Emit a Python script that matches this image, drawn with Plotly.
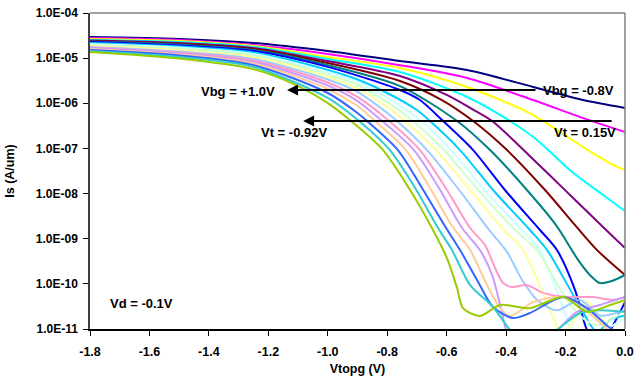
import plotly.graph_objects as go

# ---- data (Vtopg in V, Is in A/um) ----
vbg_values = ["-0.8", "-0.7", "-0.6", "-0.5", "-0.4", "-0.3", "-0.2", "-0.1", "0.0",
              "0.1", "0.2", "0.3", "0.4", "0.5", "0.6", "0.7", "0.8", "0.9", "1.0"]

vtg_n08 = [-1.8, -1.5, -1.25, -1.0, -0.757, -0.531, -0.309, -0.141, 0.0]
is_n08 = [2.94e-5, 2.65e-5, 2.17e-5, 1.44e-5, 8.6e-6, 5.46e-6, 2.30e-6, 1.18e-6, 7.9e-7]

vtg_n07 = [-1.8, -1.5, -1.25, -1.0, -0.757, -0.531, -0.309, -0.141, 0.0]
is_n07 = [2.79e-5, 2.52e-5, 1.95e-5, 1.24e-5, 7.0e-6, 3.63e-6, 1.18e-6, 4.7e-7, 2.31e-7]

vtg_n06 = [-1.8, -1.5, -1.25, -1.0, -0.757, -0.531, -0.309, -0.141, -0.040, 0.0]
is_n06 = [2.65e-5, 2.40e-5, 1.86e-5, 1.06e-5, 6.05e-6, 2.30e-6, 5.5e-7, 1.07e-7, 4.3e-8, 3.3e-8]

vtg_n05 = [-1.8, -1.5, -1.25, -1.0, -0.757, -0.531, -0.387, -0.296, -0.185, -0.074, 0.0]
is_n05 = [2.52e-5, 2.28e-5, 1.77e-5, 9.6e-6, 4.93e-6, 1.38e-6, 4.05e-7, 1.54e-7, 3.3e-8, 9.3e-9, 4.1e-9]

vtg_n04 = [-1.8, -1.5, -1.25, -1.0, -0.757, -0.6, -0.521, -0.447, -0.296, -0.185, -0.074, 0.0]
is_n04 = [2.46e-5, 2.17e-5, 1.68e-5, 8.6e-6, 4.02e-6, 1.53e-6, 7.9e-7, 4.05e-7, 4.75e-8, 9.3e-9, 1.82e-9, 6.2e-10]

vtg_n03 = [-1.8, -1.5, -1.25, -1.0, -0.757, -0.616, -0.511, -0.397, -0.269, -0.168, -0.094, 0.0]
is_n03 = [2.40e-5, 2.06e-5, 1.59e-5, 7.8e-6, 3.12e-6, 1.18e-6, 4.05e-7, 9.2e-8, 1.2e-8, 2.0e-9, 5.6e-10, 1.57e-10]

vtg_n02 = [-1.8, -1.5, -1.25, -1.0, -0.757, -0.565, -0.454, -0.330, -0.232, -0.158, -0.118, -0.084, -0.044, 0.0]
is_n02 = [2.34e-5, 2.01e-5, 1.51e-5, 7.0e-6, 2.41e-6, 4.05e-7, 9.2e-8, 1.2e-8, 2.0e-9, 3.4e-10, 1.57e-10, 1.04e-10, 1.16e-10, 1.57e-10]

vtg_n01 = [-1.8, -1.5, -1.25, -1.0, -0.757, -0.690, -0.612, -0.511, -0.404, -0.286, -0.229, -0.168, -0.128, -0.094, -0.050, 0.0]
is_n01 = [2.28e-5, 1.91e-5, 1.44e-5, 6.4e-6, 1.97e-6, 1.18e-6, 4.05e-7, 9.2e-8, 1.2e-8, 1.56e-9, 5.6e-10, 7.3e-11, 9.5e-12, 4.4e-12, 9.5e-12, 3.95e-11]

vtg_p00 = [-1.8, -1.5, -1.25, -1.0, -0.9, -0.8, -0.7, -0.656, -0.555, -0.444, -0.320, -0.262, -0.151, -0.094, -0.050, 0.0]
is_p00 = [2.17e-5, 1.81e-5, 1.33e-5, 5.46e-6, 3.36e-6, 1.69e-6, 7.1e-7, 4.05e-7, 9.2e-8, 1.2e-8, 1.56e-9, 5.6e-10, 3.07e-11, 8.6e-12, 1.58e-11, 2.0e-11]

vtg_p01 = [-1.8, -1.5, -1.25, -1.0, -0.9, -0.8, -0.686, -0.585, -0.474, -0.346, -0.286, -0.185, -0.158, -0.067, 0.0]
is_p01 = [2.06e-5, 1.72e-5, 1.24e-5, 4.93e-6, 2.96e-6, 1.34e-6, 4.05e-7, 9.2e-8, 1.2e-8, 1.56e-9, 5.6e-10, 1.1e-11, 4.4e-12, 9.5e-12, 1.75e-11]

vtg_p02 = [-1.8, -1.5, -1.25, -1.0, -0.9, -0.8, -0.713, -0.609, -0.494, -0.370, -0.296, -0.195, -0.134, -0.084, 0.0]
is_p02 = [1.95e-5, 1.64e-5, 1.15e-5, 4.34e-6, 2.54e-6, 1.07e-6, 4.05e-7, 9.2e-8, 1.2e-8, 1.56e-9, 5.6e-10, 4.4e-11, 1.58e-11, 1.22e-11, 2.6e-11]

vtg_p03 = [-1.8, -1.5, -1.25, -1.0, -0.9, -0.8, -0.740, -0.636, -0.521, -0.407, -0.343, -0.242, -0.212, -0.168, -0.128, -0.084, -0.040, 0.0]
is_p03 = [1.86e-5, 1.51e-5, 1.06e-5, 3.82e-6, 2.13e-6, 8.3e-7, 4.05e-7, 9.2e-8, 1.2e-8, 1.56e-9, 5.6e-10, 1.84e-11, 7.4e-12, 1.75e-11, 3.95e-11, 1.84e-11, 8.1e-12, 4.4e-12]

vtg_p04 = [-1.8, -1.5, -1.25, -1.0, -0.9, -0.8, -0.767, -0.666, -0.558, -0.457, -0.397, -0.346, -0.296, -0.229, -0.151, -0.084, 0.0]
is_p04 = [1.77e-5, 1.40e-5, 9.6e-6, 3.36e-6, 1.78e-6, 6.1e-7, 4.05e-7, 9.2e-8, 1.2e-8, 1.56e-9, 5.1e-10, 1.22e-10, 4.4e-11, 2.6e-11, 4.4e-11, 2.0e-11, 2.6e-11]

vtg_p05 = [-1.8, -1.5, -1.25, -1.0, -0.9, -0.794, -0.690, -0.599, -0.521, -0.471, -0.437, -0.410, -0.380, -0.330, -0.276, -0.195, -0.108, -0.040, 0.0]
is_p05 = [1.72e-5, 1.33e-5, 8.9e-6, 2.89e-6, 1.38e-6, 4.05e-7, 9.2e-8, 1.2e-8, 1.73e-9, 7.2e-10, 2.24e-10, 1.04e-10, 8.5e-11, 9.4e-11, 6.3e-11, 5.1e-11, 5.1e-11, 4.4e-11, 5.1e-11]

vtg_p06 = [-1.8, -1.5, -1.25, -1.0, -0.9, -0.817, -0.710, -0.622, -0.548, -0.488, -0.447, -0.420, -0.400, -0.380, -0.286, -0.161, -0.084, 0.0]
is_p06 = [1.68e-5, 1.27e-5, 8.2e-6, 2.48e-6, 1.12e-6, 4.05e-7, 9.2e-8, 1.2e-8, 1.73e-9, 5.6e-10, 1.57e-10, 3.4e-11, 9.5e-12, 4.4e-12, 4.4e-12, 2.4e-11, 3.4e-11, 5.1e-11]

vtg_p07 = [-1.8, -1.5, -1.25, -1.0, -0.9, -0.841, -0.737, -0.656, -0.582, -0.521, -0.464, -0.420, -0.387, -0.309, -0.219, -0.151, -0.101, -0.044, 0.0]
is_p07 = [1.59e-5, 1.20e-5, 7.6e-6, 2.07e-6, 8.7e-7, 4.05e-7, 9.2e-8, 1.33e-8, 1.91e-9, 5.6e-10, 9.4e-11, 2.9e-11, 1.94e-11, 3.95e-11, 5.1e-11, 3.4e-11, 1.75e-11, 8.1e-12, 5.7e-12]

vtg_p08 = [-1.8, -1.5, -1.25, -1.0, -0.9, -0.868, -0.764, -0.683, -0.606, -0.555, -0.494, -0.444, -0.377, -0.320, -0.208, -0.128, -0.050, 0.0]
is_p08 = [1.51e-5, 1.15e-5, 7.0e-6, 1.69e-6, 6.1e-7, 4.05e-7, 9.2e-8, 1.33e-8, 1.91e-9, 5.6e-10, 1.10e-10, 3.07e-11, 1.75e-11, 2.26e-11, 5.1e-11, 2.9e-11, 1.05e-11, 7.0e-12]

vtg_p09 = [-1.8, -1.5, -1.25, -1.0, -0.895, -0.791, -0.706, -0.629, -0.582, -0.521, -0.444, -0.387, -0.353, -0.242, -0.151, -0.084, 0.0]
is_p09 = [1.44e-5, 1.06e-5, 6.4e-6, 1.31e-6, 4.05e-7, 9.2e-8, 1.33e-8, 1.73e-9, 5.6e-10, 9.4e-11, 3.07e-11, 9.5e-12, 5.7e-12, 8.6e-12, 2.26e-11, 2.6e-11, 2.4e-11]

vtg_p10 = [-1.8, -1.5, -1.25, -1.1, -1.0, -0.922, -0.814, -0.723, -0.646, -0.599, -0.565, -0.545, -0.488, -0.420, -0.320, -0.208, -0.128, -0.050, 0.0]
is_p10 = [1.37e-5, 9.8e-6, 5.7e-6, 2.41e-6, 1.01e-6, 4.05e-7, 9.2e-8, 1.2e-8, 1.56e-9, 3.7e-10, 8.1e-11, 2.9e-11, 1.94e-11, 3.4e-11, 2.9e-11, 5.1e-11, 2.4e-11, 3.4e-11, 4.4e-11]

x_ticks = [-1.8, -1.6, -1.4, -1.2, -1.0, -0.8, -0.6, -0.4, -0.2, 0.0]
x_tick_text = ["-1.8", "-1.6", "-1.4", "-1.2", "-1.0", "-0.8", "-0.6", "-0.4", "-0.2", "0.0"]
y_ticks = [1e-11, 1e-10, 1e-9, 1e-8, 1e-7, 1e-6, 1e-5, 1e-4]
y_tick_text = ["1.0E-11", "1.0E-10", "1.0E-09", "1.0E-08", "1.0E-07", "1.0E-06", "1.0E-05", "1.0E-04"]

series = [
    (vtg_n08, is_n08, "#000080"), (vtg_n07, is_n07, "#FF00FF"), (vtg_n06, is_n06, "#FFFF00"),
    (vtg_n05, is_n05, "#00FFFF"), (vtg_n04, is_n04, "#800080"), (vtg_n03, is_n03, "#800000"),
    (vtg_n02, is_n02, "#008080"), (vtg_n01, is_n01, "#0000FF"), (vtg_p00, is_p00, "#00CCFF"),
    (vtg_p01, is_p01, "#CCFFFF"), (vtg_p02, is_p02, "#CCFFCC"), (vtg_p03, is_p03, "#FFFF99"),
    (vtg_p04, is_p04, "#99CCFF"), (vtg_p05, is_p05, "#FF99CC"), (vtg_p06, is_p06, "#CC99FF"),
    (vtg_p07, is_p07, "#FFCC99"), (vtg_p08, is_p08, "#3366FF"), (vtg_p09, is_p09, "#33CCCC"),
    (vtg_p10, is_p10, "#99CC00"),
]

FONT = "Liberation Sans, Arial, sans-serif"

fig = go.Figure()
for (vx, iy, col), vbg in zip(series, vbg_values):
    fig.add_trace(go.Scatter(
        x=vx, y=iy, mode="lines", name="Vbg = " + vbg + "V",
        line=dict(color=col, width=2, shape="spline", smoothing=0.8),
        hoverinfo="skip",
    ))

fig.update_layout(
    width=641, height=385,
    margin=dict(l=90, r=16, t=13, b=56),
    plot_bgcolor="white", paper_bgcolor="white",
    showlegend=False,
    font=dict(family=FONT, size=12, color="black"),
)

fig.update_xaxes(
    range=[-1.8, 0.0], tickvals=x_ticks, ticktext=x_tick_text,
    ticks="outside", ticklen=5, tickwidth=1, tickcolor="black",
    showline=True, linecolor="black", linewidth=1.5,
    showgrid=False, zeroline=False, automargin=False,
    tickfont=dict(family=FONT, size=12.5, weight="bold", color="black"),
    ticklabelstandoff=5, ticklabeloverflow="allow",
    title=dict(text="Vtopg (V)", font=dict(family=FONT, size=12.5, weight="bold"), standoff=6),
)
fig.update_yaxes(
    type="log", range=[-11, -4], tickvals=y_ticks, ticktext=y_tick_text,
    ticks="outside", ticklen=5, tickwidth=1, tickcolor="black",
    showline=True, linecolor="#404040", linewidth=1.5,
    showgrid=False, zeroline=False, automargin=False,
    tickfont=dict(family=FONT, size=12, weight="bold", color="black"),
    ticklabelstandoff=3, ticklabeloverflow="allow",
    title=dict(text="Is (A/um)", font=dict(family=FONT, size=12.5, weight="bold"), standoff=18),
)

# plot-area border (top and right) in grey
fig.add_shape(type="line", xref="paper", yref="paper", x0=0, x1=1, y0=1, y1=1,
              line=dict(color="#808080", width=1.5))
fig.add_shape(type="line", xref="paper", yref="paper", x0=1, x1=1, y0=0, y1=1,
              line=dict(color="#808080", width=1.5))

# arrows (log axis: annotation y in log10 units)
fig.add_annotation(x=-1.137, y=-5.706, ax=-0.296, ay=-5.706, xref="x", yref="y",
                   axref="x", ayref="y", text="", showarrow=True,
                   arrowhead=2, arrowsize=1.1, arrowwidth=2, arrowcolor="black")
fig.add_annotation(x=-1.083, y=-6.393, ax=-0.040, ay=-6.393, xref="x", yref="y",
                   axref="x", ayref="y", text="", showarrow=True,
                   arrowhead=2, arrowsize=1.1, arrowwidth=2, arrowcolor="black")

labels = [
    ("Vbg = -0.8V", -0.284, -5.706, "left"),
    ("Vt = 0.15V", -0.245, -6.658, "left"),
    ("Vbg = +1.0V", -1.302, -5.728, "center"),
    ("Vt = -0.92V", -1.115, -6.658, "center"),
    ("Vd = -0.1V", -1.627, -10.425, "center"),
]
for txt, lx, ly, anc in labels:
    fig.add_annotation(x=lx, y=ly, xref="x", yref="y", text=txt, showarrow=False,
                       xanchor=anc, yanchor="middle",
                       font=dict(family=FONT, size=13, weight="bold", color="black"))

# remove the browser's default 8 px body margin so the figure fills the window
fig.write_html("out.html", config={"displayModeBar": False},
               post_script="document.body.style.margin='0';document.body.style.overflow='hidden';")
